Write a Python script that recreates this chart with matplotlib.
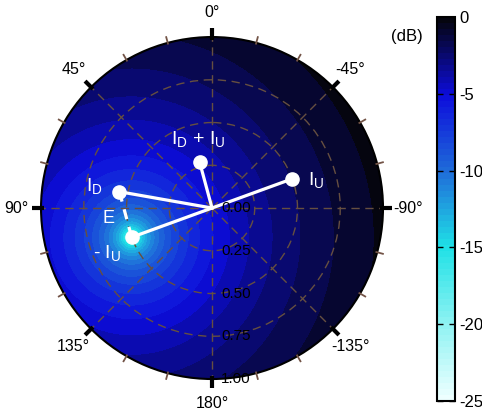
import numpy as np
import matplotlib
matplotlib.use('Agg')
import matplotlib.pyplot as plt
from matplotlib.colors import LinearSegmentedColormap, Normalize
from matplotlib.cm import ScalarMappable

plt.rcParams['font.family'] = ['Liberation Sans', 'DejaVu Sans']
plt.rcParams['axes.unicode_minus'] = False
plt.rcParams['mathtext.default'] = 'regular'

# phasors (magnitude, angle in degrees, 0 at top, ccw positive)
phasor_names = ['I_D', 'I_U']
phasor_mag = [0.55, 0.50]
phasor_ang = [80.0, -70.0]

# background level: 10*log10(|z + I_U|) + offset, in dB
field_offset_db = -2.3
cbar_ticks = [0, -5, -10, -15, -20, -25]
r_ticks = [0.0, 0.25, 0.50, 0.75, 1.00]
r_tick_labels = ['0.00', '0.25', '0.50', '0.75', '1.00']
theta_ticks = [0, 45, 90, 135, 180, 225, 270, 315]
theta_labels = ['0°', '45°', '90°', '135°', '180°', '-135°', '-90°', '-45°']

cmap_nodes = [(0.0, (0.93, 1.00, 1.00)),
              (0.2, (0.55, 0.95, 0.95)),
              (0.4, (0.12, 0.88, 0.90)),
              (0.6, (0.12, 0.42, 0.85)),
              (0.8, (0.05, 0.05, 0.86)),
              (1.0, (0.02, 0.02, 0.06))]
cmap = LinearSegmentedColormap.from_list('db', cmap_nodes, N=64)

ID = phasor_mag[0] * np.exp(1j * np.deg2rad(phasor_ang[0]))
IU = phasor_mag[1] * np.exp(1j * np.deg2rad(phasor_ang[1]))
pts = {'I_D': ID, 'I_U': IU, '-I_U': -IU, 'I_D+I_U': ID + IU}

# field on polar grid
th = np.linspace(0, 2 * np.pi, 361)
rr = np.linspace(0, 1, 201)
TH, RR = np.meshgrid(th, rr)
Z = RR * np.exp(1j * TH)
val = 10 * np.log10(np.abs(Z + IU) + 1e-9) + field_offset_db
val = np.clip(val, -25, -0.001)

fig = plt.figure(figsize=(4.82, 4.13), dpi=100)
ax = fig.add_axes([0.0851, 0.0823, 0.7095, 0.828], projection='polar')
ax.set_theta_zero_location('N')
levels = np.linspace(-25, 0, 33)
ax.contourf(TH, RR, val, levels=levels, cmap=cmap, vmin=-25, vmax=0)
ax.set_ylim(0, 1)

grid_col = (0.40, 0.31, 0.25)
ax.set_xticks(np.deg2rad(theta_ticks))
ax.set_xticklabels([''] * len(theta_ticks))
ax.set_yticks([0.25, 0.5, 0.75])
ax.set_yticklabels([])
ax.grid(True, color=grid_col, linestyle=(0, (6, 4)), linewidth=1)
ax.tick_params(axis='x', length=0)
ax.spines['polar'].set_linewidth(1.5)

# rim ticks: thick black every 45 deg, small brown every 15 deg
for a in range(0, 360, 15):
    t = np.deg2rad(a)
    if a % 45 == 0:
        ax.plot([t, t], [0.985, 1.05], color='black', lw=3, clip_on=False, zorder=7,
                solid_capstyle='butt')
    else:
        ax.plot([t, t], [0.99, 1.04], color=(0.45, 0.33, 0.28), lw=1.3, clip_on=False,
                zorder=7, solid_capstyle='butt')

for t, lab in zip(theta_ticks, theta_labels):
    ax.text(np.deg2rad(t), 1.145, lab, ha='center', va='center', fontsize=11.5, clip_on=False)
for r, lab in zip(r_ticks, r_tick_labels):
    ax.annotate(lab, (np.pi, r), xytext=(6.5, 0), textcoords='offset points',
                ha='left', va='center', fontsize=11, color='black', zorder=6, annotation_clip=False)

# phasor lines
def pol(z):
    return np.angle(z), np.abs(z)

lw = 2.3
t1, r1 = pol(-IU); t2, r2 = pol(IU)
ax.plot([t1, 0, t2], [r1, 0, r2], color='white', lw=lw, zorder=4, solid_capstyle='round')
t3, r3 = pol(ID)
ax.plot([t3, 0], [r3, 0], color='white', lw=lw, zorder=4)
t4, r4 = pol(ID + IU)
ax.plot([t4, 0], [r4, 0], color='white', lw=lw, zorder=4)
ax.plot([t3, t1], [r3, r1], color='white', lw=lw, ls=(0, (3.2, 2.5)), zorder=4)
for k in ['I_D', 'I_U', '-I_U', 'I_D+I_U']:
    t, r = pol(pts[k])
    ax.plot([t], [r], 'o', color='white', ms=9.5, zorder=5)

labels = {'I_D': (r'$I_D$', (-18, 4)),
          'I_U': (r'$I_U$', (17, -1)),
          '-I_U': (r'- $I_U$', (-18, -11)),
          'I_D+I_U': (r'$I_D$ + $I_U$', (-1, 17))}
for k, (txt, off) in labels.items():
    t, r = pol(pts[k])
    ax.annotate(txt, (t, r), xytext=off, textcoords='offset points', ha='center', va='center',
                color='white', fontsize=14, zorder=6)
tm, rm = pol((ID - IU) / 2)
ax.annotate('E', (tm, rm), xytext=(-12, -3), textcoords='offset points', ha='center', va='center',
            color='white', fontsize=13, zorder=6)

cax = fig.add_axes([0.9066, 0.029, 0.0373, 0.93])
cb = fig.colorbar(ScalarMappable(norm=Normalize(-25, 0), cmap=cmap), cax=cax)
cb.set_ticks(cbar_ticks)
cb.set_ticklabels([str(v) for v in cbar_ticks])
cax.tick_params(direction='in', left=True, right=True, length=4, width=1, labelsize=12, pad=3)
cb.outline.set_linewidth(1.5)
fig.text(407 / 482, 1 - 37 / 413, '(dB)', ha='center', va='center', fontsize=12)

fig.savefig('out.png', dpi=100)
